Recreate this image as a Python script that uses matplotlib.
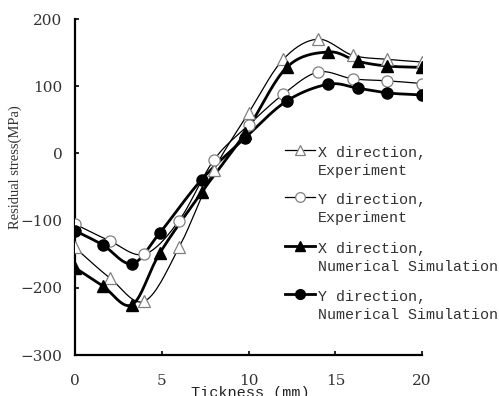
import numpy as np
import matplotlib
matplotlib.use("Agg")
import matplotlib.pyplot as plt
from matplotlib.lines import Line2D

# experiment (open markers)
x_exp = [0, 2, 4, 6, 8, 10, 12, 14, 16, 18, 20]
sx_exp = [-140, -185, -220, -140, -25, 60, 140, 170, 146, 140, 136]
sy_exp = [-105, -130, -150, -100, -10, 42, 88, 121, 111, 108, 104]

# numerical simulation (filled markers)
x_sim = [0, 1.6, 3.3, 4.9, 7.3, 9.8, 12.2, 14.6, 16.3, 18, 20]
sx_sim = [-170, -197, -225, -148, -58, 30, 128, 151, 137, 130, 128]
sy_sim = [-115, -136, -164, -118, -39, 23, 78, 103, 97, 90, 87]

labels = ["X direction,\nExperiment", "Y direction,\nExperiment",
          "X direction,\nNumerical Simulation", "Y direction,\nNumerical Simulation"]


def smooth(x, y, n=20):
    # Catmull-Rom style smoothing, like a spreadsheet "smoothed line"
    x = np.asarray(x, float)
    y = np.asarray(y, float)
    px = np.concatenate([[x[0]], x, [x[-1]]])
    py = np.concatenate([[y[0]], y, [y[-1]]])
    xs, ys = [], []
    t = np.linspace(0, 1, n)
    for i in range(1, len(px) - 2):
        p0 = np.array([px[i], py[i]])
        p3 = np.array([px[i + 1], py[i + 1]])
        c1 = p0 + (p3 - np.array([px[i - 1], py[i - 1]])) / 6
        c2 = p3 - (np.array([px[i + 2], py[i + 2]]) - p0) / 6
        b = ((1 - t) ** 3)[:, None] * p0 + (3 * (1 - t) ** 2 * t)[:, None] * c1 \
            + (3 * (1 - t) * t ** 2)[:, None] * c2 + (t ** 3)[:, None] * p3
        xs.extend(b[:, 0])
        ys.extend(b[:, 1])
    return xs, ys


fig = plt.figure(figsize=(4.99, 3.96), dpi=100)
ax = fig.add_axes([0.150, 0.1035, 0.696, 0.8485])

styles = [
    dict(marker='^', mfc='white', mec='#808080', ms=8, lw=0.9, mew=0.9),
    dict(marker='o', mfc='white', mec='#808080', ms=8, lw=0.9, mew=0.9),
    dict(marker='^', mfc='black', mec='black', ms=8, lw=2.0, mew=1),
    dict(marker='o', mfc='black', mec='black', ms=8, lw=2.0, mew=1),
]
series = [(x_exp, sx_exp), (x_exp, sy_exp), (x_sim, sx_sim), (x_sim, sy_sim)]

for (xs, ys), st in zip(series, styles):
    cx, cy = smooth(xs, ys)
    ax.plot(cx, cy, color='black', lw=st['lw'], zorder=2)
    ax.plot(xs, ys, ls='none', marker=st['marker'], mfc=st['mfc'],
            mec=st['mec'], ms=st['ms'], mew=st['mew'], zorder=3)

ax.set_xlim(0, 20)
ax.set_ylim(-300, 200)
ax.set_xticks([0, 5, 10, 15, 20])
ax.set_yticks([-300, -200, -100, 0, 100, 200])
for s in ['top', 'right']:
    ax.spines[s].set_visible(False)
for s in ['left', 'bottom']:
    ax.spines[s].set_linewidth(1.6)
ax.tick_params(direction='in', length=3, width=1.2, labelsize=11)
ax.tick_params(axis='x', pad=14)
ax.tick_params(axis='y', pad=9)
for lab in ax.get_xticklabels() + ax.get_yticklabels():
    lab.set_family('DejaVu Serif')
    lab.set_color('#333333')

ax.set_ylabel('Residual stress(MPa)', family='Liberation Serif', fontsize=10.5,
              color='#333333')
ax.yaxis.set_label_coords(-0.152, 0.56)
ax.set_xlabel('Tickness (mm)', family='Liberation Mono', fontsize=11, va='baseline',
              color='#222222')
ax.xaxis.set_label_coords(0.505, -0.125)

# legend drawn by hand so the handle sits on the first text line
leg_y = [0.610, 0.470, 0.324, 0.182]
for lab, st, yy in zip(labels, styles, leg_y):
    ax.add_line(Line2D([0.605, 0.692], [yy, yy], color='black', lw=st['lw'],
                       transform=ax.transAxes, clip_on=False))
    ax.add_line(Line2D([0.648], [yy], ls='none', marker=st['marker'], mfc=st['mfc'],
                       mec=st['mec'], ms=st['ms'] - 1, mew=st['mew'],
                       transform=ax.transAxes, clip_on=False))
    ax.text(0.700, yy + 0.012, lab, transform=ax.transAxes, va='top', ha='left',
            family='Liberation Mono', fontsize=10.8, color='#333333',
            linespacing=1.35, clip_on=False)

fig.savefig('out.png', dpi=100)
